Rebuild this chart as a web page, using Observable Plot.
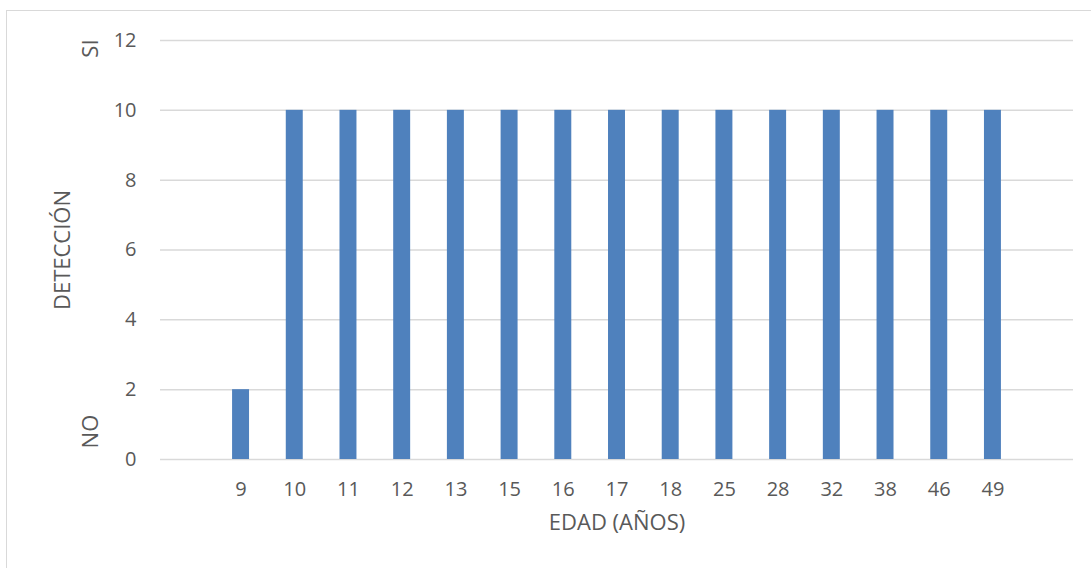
<!DOCTYPE html>
<html>
<head>
<meta charset="utf-8">
<script src="https://cdn.jsdelivr.net/npm/d3@7"></script>
<script src="https://cdn.jsdelivr.net/npm/@observablehq/plot@0.6"></script>
<style>
  html, body { margin: 0; padding: 0; background: #fff; overflow: hidden; }
  #wrap { position: relative; width: 1091px; height: 568px; }
  #frame { position: absolute; left: 6px; top: 10px; width: 1100px; height: 580px; border: 1px solid #d9d9d9; box-sizing: border-box; }
  #chart { position: absolute; left: 0; top: 0; }
  svg { font-family: "Open Sans", sans-serif; }
</style>
</head>
<body>
<div id="wrap"><div id="frame"></div><div id="chart"></div></div>
<script>
const ages = ["9","10","11","12","13","15","16","17","18","25","28","32","38","46","49"];
const detection = [2,10,10,10,10,10,10,10,10,10,10,10,10,10,10];
const yTicks = [0,2,4,6,8,10,12];
const sideLabels = ["SI","NO"];
const sideLabelY = [11.77, 0.8];

const data = ages.map((a, i) => ({age: a, value: detection[i]}));
const sides = sideLabels.map((t, i) => ({text: t, y: sideLabelY[i]}));

const chart = Plot.plot({
  width: 1091,
  height: 568,
  marginLeft: 160,
  marginRight: 18,
  marginTop: 40,
  marginBottom: 109,
  style: {fontFamily: "'Open Sans', sans-serif", fontSize: "20px", color: "#595959", background: "transparent", overflow: "visible"},
  x: {domain: ages, paddingInner: 0.684, paddingOuter: 1.342, round: false, label: null},
  y: {domain: [0, 12], ticks: yTicks, label: null},
  marks: [
    Plot.gridY(yTicks, {stroke: "#d9d9d9", strokeOpacity: 1, strokeWidth: 1.5}),
    Plot.barY(data, {x: "age", y: "value", fill: "#4F81BD"}),
    Plot.axisX({tickSize: 0, tickPadding: 22, fontSize: 20, fill: "#595959", label: null}),
    Plot.axisY({ticks: yTicks, tickSize: 0, tickPadding: 24, fontSize: 20, fill: "#595959", label: null}),
    Plot.text(["EDAD (AÑOS)"], {frameAnchor: "bottom", dy: 70, fontSize: 22, fill: "#595959"}),
    Plot.text(["DETECCIÓN"], {frameAnchor: "left", textAnchor: "middle", dx: -98, rotate: -90, fontSize: 22, fill: "#595959"}),
    Plot.text(sides, {y: "y", text: "text", frameAnchor: "left", textAnchor: "middle", dx: -70, rotate: -90, fontSize: 22, fill: "#595959"})
  ]
});
document.getElementById("chart").appendChild(chart);
</script>
</body>
</html>
